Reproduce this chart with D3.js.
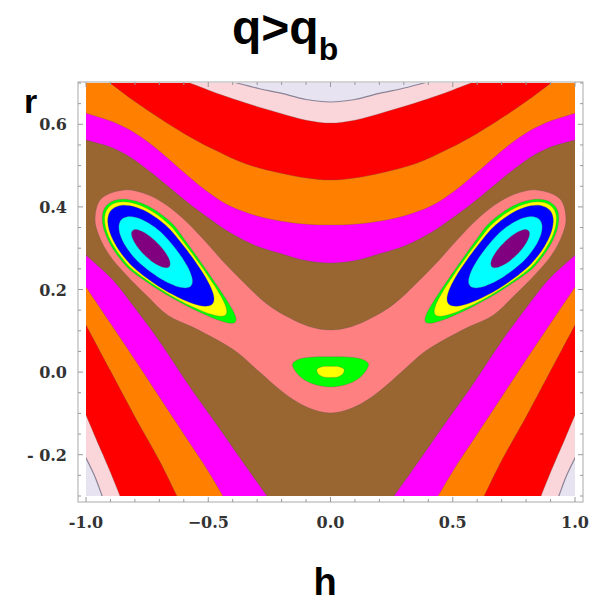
<!DOCTYPE html>
<html><head><meta charset="utf-8">
<script src="https://cdn.jsdelivr.net/npm/d3@7"></script>
<style>body{margin:0;background:#fff}</style>
</head><body>
<svg id="chart" width="594" height="603"></svg>
<script>
// ---- axis data ----
const hTicks = [-1, -0.5, 0, 0.5, 1];
const hTickLabels = ["-1.0", "\u22120.5", "0.0", "0.5", "1.0"];
const rTicks = [-0.2, 0, 0.2, 0.4, 0.6];
const rTickLabels = ["- 0.2", "0.0", "0.2", "0.4", "0.6"];
// contour bands, lowest to highest
const bandNames  = ["purple","cyan","blue","yellow","green","pink","brown","magenta","orange","red","lightred","lightpurple"];
const bandColors = ["#800080","#00ffff","#0000ff","#ffff00","#00ff00","#ff8080","#996633","#ff00ff","#ff8000","#ff0000","#fad6da","#e8e3f0"];

// ---- contour lines, left half (h<=0), mirrored to h>0 ----
// upper lines: from the left/top edge to h=0
const upper10 = [[-0.382,0.700],[-0.29,0.686],[-0.207,0.676],[-0.10,0.660],[0,0.654]];
const upper9  = [[-0.575,0.700],[-0.45,0.672],[-0.343,0.651],[-0.207,0.627],[-0.10,0.610],[0,0.603]];
const upper8  = [[-0.902,0.700],[-0.80,0.655],[-0.70,0.615],[-0.60,0.578],[-0.481,0.540],[-0.35,0.505],[-0.207,0.482],[-0.10,0.470],[0,0.465]];
const upper7  = [[-1.0,0.627],[-0.90,0.608],[-0.82,0.586],[-0.72,0.545],[-0.616,0.492],[-0.51,0.440],[-0.411,0.402],[-0.30,0.378],[-0.207,0.366],[-0.10,0.358],[0,0.356]];
const upper6  = [[-1.0,0.562],[-0.90,0.545],[-0.82,0.521],[-0.72,0.477],[-0.616,0.426],[-0.51,0.378],[-0.411,0.338],[-0.30,0.305],[-0.207,0.288],[-0.10,0.270],[0,0.264]];
// lower lines: from the left edge to the bottom edge
const lower10 = [[-1.0,-0.208],[-0.963,-0.254],[-0.934,-0.300]];
const lower9  = [[-1.0,-0.104],[-0.96,-0.16],[-0.93,-0.201],[-0.895,-0.25],[-0.861,-0.300]];
const lower8  = [[-1.0,0.114],[-0.90,0.003],[-0.80,-0.108],[-0.70,-0.214],[-0.628,-0.300]];
const lower7  = [[-1.0,0.206],[-0.90,0.118],[-0.80,0.030],[-0.70,-0.060],[-0.60,-0.150],[-0.50,-0.240],[-0.440,-0.300]];
const lower6  = [[-1.0,0.283],[-0.89,0.223],[-0.80,0.155],[-0.70,0.075],[-0.575,-0.036],[-0.45,-0.14],[-0.35,-0.225],[-0.260,-0.300]];
// pink (salmon) region: top centre, left half loop, bottom centre
const pinkTop = [0,0.102], pinkBottom = [0,-0.099];
const pinkLeft = [[-0.085,0.110],[-0.17,0.132],[-0.26,0.165],[-0.355,0.217],[-0.441,0.269],[-0.522,0.323],[-0.609,0.375],[-0.690,0.412],[-0.769,0.434],[-0.844,0.441],[-0.939,0.419],[-0.963,0.370],[-0.946,0.329],[-0.906,0.285],[-0.840,0.238],[-0.753,0.186],[-0.664,0.137],[-0.56,0.108],[-0.47,0.08],[-0.382,0.048],[-0.29,0.0],[-0.207,-0.043],[-0.13,-0.075],[-0.06,-0.093]];
// central local minimum
const greenBlobTop=[0,0.037], greenBlobBottom=[0,-0.036];
const greenBlobLeft=[[-0.08,0.036],[-0.13,0.031],[-0.155,0.020],[-0.148,0.006],[-0.12,-0.013],[-0.07,-0.029]];
const yellowBlobTop=[0,0.014], yellowBlobBottom=[0,-0.013];
const yellowBlobLeft=[[-0.035,0.013],[-0.055,0.007],[-0.052,-0.003],[-0.033,-0.011]];
// side wells: centre and rings [band, lengthUpLeft, lengthDownRight, halfWidthUpper, halfWidthLower, taper] (h units)
const wellCenter = [-0.736, 0.299];
const wellRings = [
  [4, 0.252,0.458,0.135,0.121,0.45],
  [3, 0.241,0.409,0.124,0.113,0.35],
  [2, 0.225,0.339,0.112,0.104,0.20],
  [1, 0.168,0.225,0.078,0.074,0.10],
  [0, 0.104,0.106,0.036,0.036,0.00]
];
const wellBend = 0.15;

const W=594,H=603;
const svg=d3.select("#chart");
svg.append("rect").attr("width",W).attr("height",H).attr("fill","#fff");
const defs=svg.append("defs");
defs.append("filter").attr("id","soft").append("feGaussianBlur").attr("stdDeviation",0.5);
const x=d3.scaleLinear().domain([-1,1]).range([86,575]);
const y=d3.scaleLinear().domain([-0.3,0.7]).range([496,83]);
const kx=x(1)-x(0);
const P=([h,r])=>[x(h),y(r)];
const mir=pts=>pts.map(([h,r])=>[-h,r]);
const full=(left,c)=>[...left,c,...mir(left).reverse()];
function extend(Q,e=14){const f=(a,b)=>{const dx=a[0]-b[0],dy=a[1]-b[1],L=Math.hypot(dx,dy);return[a[0]+e*dx/L,a[1]+e*dy/L];};
  return [f(Q[0],Q[1]),...Q,f(Q[Q.length-1],Q[Q.length-2])];}
const lineC=d3.line().curve(d3.curveCatmullRom.alpha(0.5));
const lineK=d3.line().curve(d3.curveCatmullRomClosed.alpha(0.5));
const lineL=d3.line();

defs.append("clipPath").attr("id","clip").append("rect").attr("x",86).attr("y",83).attr("width",489).attr("height",413);
const clipG=svg.append("g").attr("clip-path","url(#clip)");
const g=clipG.append("g").attr("filter","url(#soft)");
const lines=g.append("g").attr("fill","none");
g.append("rect").attr("x",80).attr("y",77).attr("width",501).attr("height",425).attr("fill",bandColors[11]);

function addLine(d,band){lines.append("path").attr("d",d)
  .attr("stroke",band===10?"rgba(120,115,135,0.85)":"rgba(80,80,80,0.3)").attr("stroke-width",band===10?1.2:0.9);}
function outerRegion(upLeft, lowLeft, band){
  const upPts=full(upLeft.slice(0,-1),upLeft[upLeft.length-1]);
  const U=extend(upPts.map(P)), LL=extend(lowLeft.map(P)), LR=extend(mir(lowLeft).map(P));
  const X0=50,X1=620,Y0=50,Y1=540;
  const uS=U[0],uE=U[U.length-1],rS=LR[0],rE=LR[LR.length-1],lS=LL[0],lE=LL[LL.length-1];
  let d=lineC(U);
  d+=lineL([uE,[X1,Y0],[X1,rS[1]],rS]).replace("M","L");
  d+=lineC(LR).replace("M","L");
  d+=lineL([rE,[rE[0],Y1],[lE[0],Y1],lE]).replace("M","L");
  d+=lineC(LL.slice().reverse()).replace("M","L");
  d+=lineL([lS,[X0,lS[1]],[X0,Y0],uS]).replace("M","L")+"Z";
  g.append("path").attr("d",d).attr("fill",bandColors[band]);
  [U,LL,LR].forEach(c=>addLine(lineC(c),band));
}
outerRegion(upper10,lower10,10);
outerRegion(upper9,lower9,9);
outerRegion(upper8,lower8,8);
outerRegion(upper7,lower7,7);
outerRegion(upper6,lower6,6);

function closedShape(pts,band){const d=lineK(pts);g.append("path").attr("d",d).attr("fill",bandColors[band]);addLine(d,band);}
closedShape([pinkTop,...pinkLeft,pinkBottom,...mir(pinkLeft).reverse()].map(P),5);

function ringPts([band,A1,A2,Bu,Bl,tau],mirror){
  const O=P(wellCenter),c0=x(0),pts=[];
  for(let i=0;i<40;i++){const th=i/40*2*Math.PI,c=Math.cos(th),sn=Math.sin(th);
    const s=(c>=0?A2:A1)*c;let t=(sn>=0?Bu:Bl)*sn;if(s>0){t*=(1-tau*s/A2);t+=wellBend*s*s;}
    let X=O[0]+0.7071*(s+t)*kx,Y=O[1]+0.7071*(s-t)*kx;if(mirror)X=2*c0-X;pts.push([X,Y]);}
  return pts;}
const blobG=[greenBlobTop,...greenBlobLeft,greenBlobBottom,...mir(greenBlobLeft).reverse()].map(P);
const blobY=[yellowBlobTop,...yellowBlobLeft,yellowBlobBottom,...mir(yellowBlobLeft).reverse()].map(P);
wellRings.forEach(ring=>{
  closedShape(ringPts(ring,false),ring[0]);
  closedShape(ringPts(ring,true),ring[0]);
  if(ring[0]===4)closedShape(blobG,4);
  if(ring[0]===3)closedShape(blobY,3);
});
lines.raise();

// ---- frame, ticks, labels ----
const fx0=78,fx1=583,fy0=82,fy1=502;
svg.append("rect").attr("x",fx0).attr("y",fy0).attr("width",fx1-fx0).attr("height",fy1-fy0).attr("fill","none").attr("stroke","#aaa").attr("stroke-width",1);
const tk=svg.append("g").attr("stroke","#999").attr("stroke-width",1);
d3.range(-10,11).forEach(i=>{const px=x(i/10),len=(i%5===0)?5:3;
 tk.append("line").attr("x1",px).attr("x2",px).attr("y1",fy1).attr("y2",fy1-len);
 tk.append("line").attr("x1",px).attr("x2",px).attr("y1",fy0).attr("y2",fy0+len);});
d3.range(-6,15).forEach(i=>{const py=y(i/20),len=(i%4===0)?5:3;
 tk.append("line").attr("y1",py).attr("y2",py).attr("x1",fx0).attr("x2",fx0+len);
 tk.append("line").attr("y1",py).attr("y2",py).attr("x1",fx1).attr("x2",fx1-len);});
const lab=sel=>sel.style("font-family","DejaVu Serif").style("font-weight","bold").style("font-size","16px").style("fill","#333");
hTicks.forEach((h,i)=>lab(svg.append("text").attr("x",x(h)).attr("y",528).attr("text-anchor","middle").text(hTickLabels[i])));
rTicks.forEach((r,i)=>lab(svg.append("text").attr("x",67).attr("y",y(r)+6).attr("text-anchor","end").text(rTickLabels[i])));
const title=svg.append("text").attr("x",232).attr("y",44).style("font-family","Liberation Sans").style("font-weight","bold").style("font-size","48px").text("q>q");
title.append("tspan").attr("dy",16).style("font-size","32px").text("b");
svg.append("text").attr("x",24).attr("y",113).style("font-family","Liberation Sans").style("font-weight","bold").style("font-size","34px").text("r");
svg.append("text").attr("x",325).attr("y",595).attr("text-anchor","middle").style("font-family","Liberation Sans").style("font-weight","bold").style("font-size","38px").text("h");
</script>
</body></html>
